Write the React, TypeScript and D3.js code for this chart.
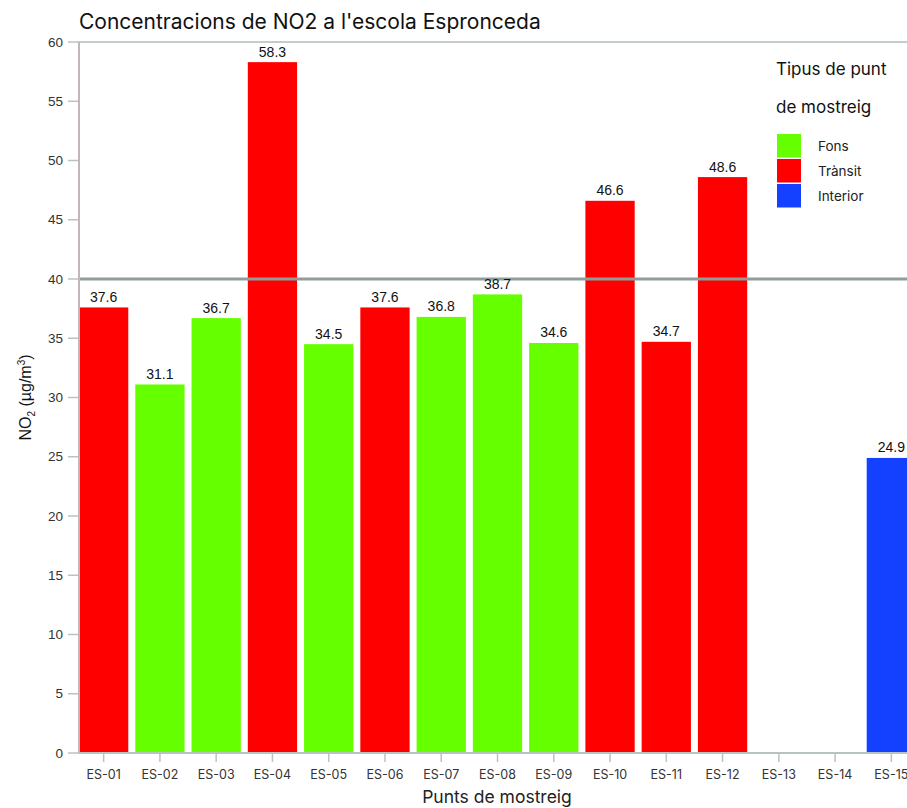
import React from "react";
import * as d3 from "d3";

const points = ["ES-01","ES-02","ES-03","ES-04","ES-05","ES-06","ES-07","ES-08","ES-09","ES-10","ES-11","ES-12","ES-13","ES-14","ES-15"];
const values: (number | null)[] = [37.6, 31.1, 36.7, 58.3, 34.5, 37.6, 36.8, 38.7, 34.6, 46.6, 34.7, 48.6, null, null, 24.9];
const types = ["Trànsit","Fons","Fons","Trànsit","Fons","Trànsit","Fons","Fons","Fons","Trànsit","Trànsit","Trànsit","","","Interior"];
const legendTypes = ["Fons", "Trànsit", "Interior"];
const typeColors = ["#66ff00", "#ff0000", "#1440ff"];
const yTicks = [0, 5, 10, 15, 20, 25, 30, 35, 40, 45, 50, 55, 60];
const limitValue = 40;

const W = 907, H = 808;
const left = 79, top = 42, bottom = 753;
const numFont = "'Liberation Sans', Arial, sans-serif";
const textFont = "Inter, 'Open Sans', sans-serif";

export default function App() {
  const x = d3.scaleBand<string>().domain(points).range([left, 916]).paddingInner(0.124).paddingOuter(0);
  const y = d3.scaleLinear().domain([0, 60]).range([bottom, top]);
  const color = d3.scaleOrdinal<string, string>().domain(legendTypes).range(typeColors);

  return (
    <svg width={W} height={H} style={{ position: "absolute", left: 0, top: 0, background: "#fff" }}>
      <text x={left} y={29} fontFamily={textFont} fontSize={21} fill="#111">Concentracions de NO2 a l'escola Espronceda</text>
      {/* top frame line */}
      <line x1={left} x2={W} y1={top} y2={top} stroke="#c4cccc" strokeWidth={2} />
      {/* y ticks */}
      {yTicks.map(t => (
        <g key={t}>
          <line x1={68} x2={left} y1={y(t)} y2={y(t)} stroke="#b8c4c4" strokeWidth={1.5} />
          <text x={63} y={y(t) + 4.5} textAnchor="end" fontFamily={numFont} fontSize={13.5} fill="#333">{t}</text>
        </g>
      ))}
      {/* bars */}
      {points.map((p, i) => {
        const v = values[i];
        if (v == null) return null;
        return <rect key={p} x={x(p)} y={y(v)} width={x.bandwidth()} height={y(0) - y(v)} fill={color(types[i])} />;
      })}
      {/* limit line */}
      <line x1={left} x2={W} y1={y(limitValue)} y2={y(limitValue)} stroke="#8f9e9a" strokeWidth={3} />
      {/* value labels */}
      {points.map((p, i) => {
        const v = values[i];
        if (v == null) return null;
        return (
          <text key={p} x={(x(p) as number) + x.bandwidth() / 2} y={y(v) - 5.5} textAnchor="middle" fontFamily={numFont} fontSize={14} fill="#111">{v.toFixed(1)}</text>
        );
      })}
      {/* axes */}
      <line x1={left} x2={left} y1={top} y2={bottom} stroke="#c4b4bc" strokeWidth={2} />
      <line x1={left} x2={W} y1={bottom} y2={bottom} stroke="#b8c4c4" strokeWidth={2} />
      {points.map(p => {
        const cx = (x(p) as number) + x.bandwidth() / 2;
        return (
          <g key={p}>
            <line x1={cx} x2={cx} y1={bottom} y2={762} stroke="#b8c4c4" strokeWidth={1.5} />
            <text x={cx} y={779} textAnchor="middle" fontFamily={textFont} fontSize={12.5} fill="#333">{p}</text>
          </g>
        );
      })}
      <text x={497} y={803} textAnchor="middle" fontFamily={textFont} fontSize={17.5} fill="#222">Punts de mostreig</text>
      <text transform={`translate(31, ${(top + bottom) / 2}) rotate(-90)`} textAnchor="middle" fontFamily={numFont} fontSize={16} fill="#111">
        NO<tspan fontSize={10} dy={4}>2</tspan><tspan dy={-4}> (µg/m</tspan><tspan fontSize={10} dy={-6}>3</tspan><tspan dy={6}>)</tspan>
      </text>
      {/* legend */}
      <text x={776} y={75} fontFamily={textFont} fontSize={17} fill="#111">Tipus de punt</text>
      <text x={776} y={113} fontFamily={textFont} fontSize={17} fill="#111">de mostreig</text>
      {legendTypes.map((t, i) => (
        <g key={t}>
          <rect x={777} y={134 + i * 25} width={24} height={23.5} fill={color(t)} />
          <text x={818} y={150.5 + i * 25} fontFamily={textFont} fontSize={13.5} fill="#222">{t}</text>
        </g>
      ))}
    </svg>
  );
}
